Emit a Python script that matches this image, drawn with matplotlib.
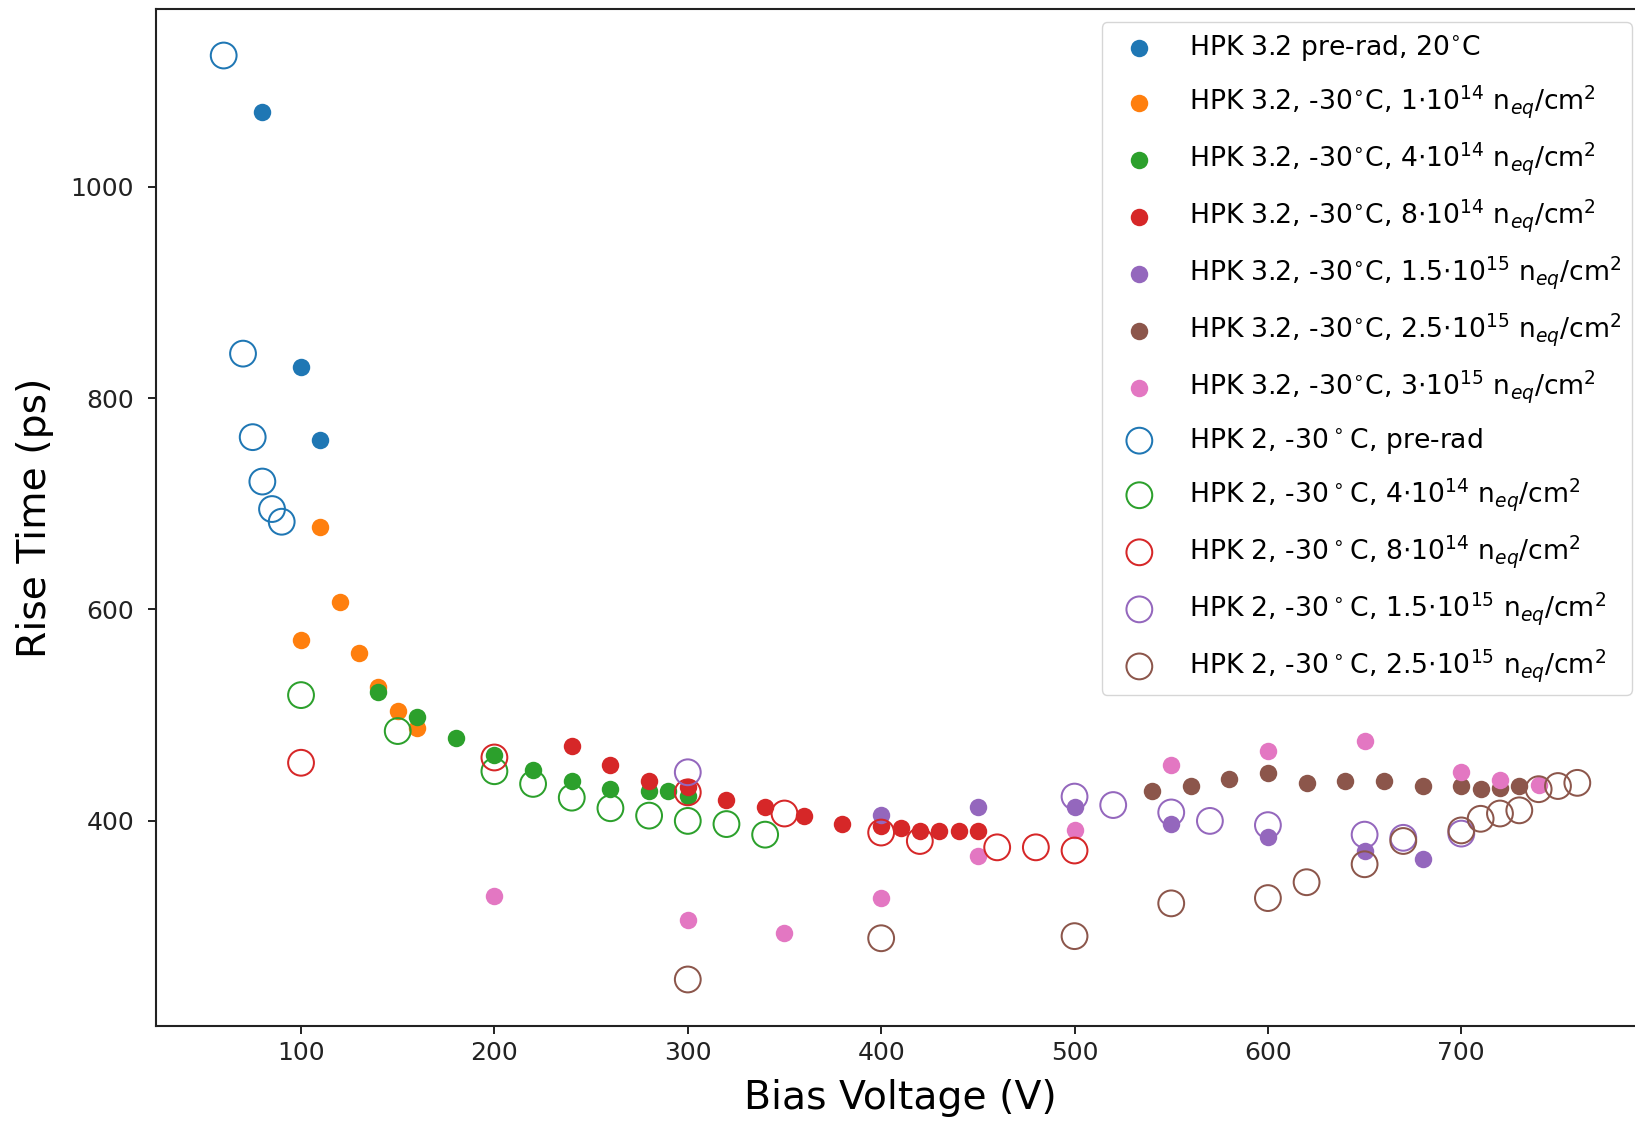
import matplotlib
matplotlib.use("Agg")
import matplotlib.pyplot as plt

# ---- data (Bias Voltage [V], Rise Time [ps]) ----
hpk32_pre_v = [80, 100, 110]
hpk32_pre_t = [1071, 829, 760]

hpk32_1e14_v = [100, 110, 120, 130, 140, 150, 160]
hpk32_1e14_t = [571, 678, 607, 559, 527, 504, 488]

hpk32_4e14_v = [140, 160, 180, 200, 220, 240, 260, 280, 290, 300]
hpk32_4e14_t = [522, 498, 478, 462, 448, 438, 430, 428, 428, 424]

hpk32_8e14_v = [240, 260, 280, 300, 320, 340, 360, 380, 400, 410, 420, 430, 440, 450]
hpk32_8e14_t = [471, 453, 438, 432, 420, 413, 405, 397, 395, 393, 390, 390, 390, 390]

hpk32_15e15_v = [400, 450, 500, 550, 600, 650, 680]
hpk32_15e15_t = [406, 413, 413, 397, 385, 372, 364]

hpk32_25e15_v = [540, 560, 580, 600, 620, 640, 660, 680, 700, 710, 720, 730]
hpk32_25e15_t = [428, 433, 440, 445, 436, 438, 438, 433, 433, 430, 431, 433]

hpk32_3e15_v = [200, 300, 350, 400, 450, 500, 550, 600, 650, 700, 720, 740]
hpk32_3e15_t = [329, 306, 294, 327, 367, 391, 453, 466, 476, 446, 439, 434]

hpk2_pre_v = [60, 70, 75, 80, 85, 90]
hpk2_pre_t = [1124, 842, 763, 721, 695, 683]

hpk2_4e14_v = [100, 150, 200, 220, 240, 260, 280, 300, 320, 340]
hpk2_4e14_t = [519, 485, 447, 435, 422, 412, 405, 400, 397, 387]

hpk2_8e14_v = [100, 200, 300, 350, 400, 420, 460, 480, 500]
hpk2_8e14_t = [455, 460, 427, 407, 389, 381, 375, 375, 372]

hpk2_15e15_v = [300, 500, 520, 550, 570, 600, 650, 670, 700]
hpk2_15e15_t = [446, 423, 415, 408, 400, 396, 387, 384, 388]

hpk2_25e15_v = [300, 400, 500, 550, 600, 620, 650, 670, 700, 710, 720, 730, 740, 750, 760]
hpk2_25e15_t = [250, 289, 291, 322, 327, 342, 359, 381, 391, 402, 407, 410, 430, 433, 436]

labels = [
    r"HPK 3.2 pre-rad, 20$^{\circ}$C",
    r"HPK 3.2, -30$^{\circ}$C, 1$\cdot$10$^{14}$ n$_{eq}$/cm$^{2}$",
    r"HPK 3.2, -30$^{\circ}$C, 4$\cdot$10$^{14}$ n$_{eq}$/cm$^{2}$",
    r"HPK 3.2, -30$^{\circ}$C, 8$\cdot$10$^{14}$ n$_{eq}$/cm$^{2}$",
    r"HPK 3.2, -30$^{\circ}$C, 1.5$\cdot$10$^{15}$ n$_{eq}$/cm$^{2}$",
    r"HPK 3.2, -30$^{\circ}$C, 2.5$\cdot$10$^{15}$ n$_{eq}$/cm$^{2}$",
    r"HPK 3.2, -30$^{\circ}$C, 3$\cdot$10$^{15}$ n$_{eq}$/cm$^{2}$",
    r"HPK 2, -30$\,^{\circ}\,$C, pre-rad",
    r"HPK 2, -30$\,^{\circ}\,$C, 4$\cdot$10$^{14}$ n$_{eq}$/cm$^{2}$",
    r"HPK 2, -30$\,^{\circ}\,$C, 8$\cdot$10$^{14}$ n$_{eq}$/cm$^{2}$",
    r"HPK 2, -30$\,^{\circ}\,$C, 1.5$\cdot$10$^{15}$ n$_{eq}$/cm$^{2}$",
    r"HPK 2, -30$\,^{\circ}\,$C, 2.5$\cdot$10$^{15}$ n$_{eq}$/cm$^{2}$",
]

xticks = [100, 200, 300, 400, 500, 600, 700]
yticks = [400, 600, 800, 1000]

filled = [
    (hpk32_pre_v, hpk32_pre_t, "#1f77b4"),
    (hpk32_1e14_v, hpk32_1e14_t, "#ff7f0e"),
    (hpk32_4e14_v, hpk32_4e14_t, "#2ca02c"),
    (hpk32_8e14_v, hpk32_8e14_t, "#d62728"),
    (hpk32_15e15_v, hpk32_15e15_t, "#9467bd"),
    (hpk32_25e15_v, hpk32_25e15_t, "#8c564b"),
    (hpk32_3e15_v, hpk32_3e15_t, "#e377c2"),
]
opened = [
    (hpk2_pre_v, hpk2_pre_t, "#1f77b4"),
    (hpk2_4e14_v, hpk2_4e14_t, "#2ca02c"),
    (hpk2_8e14_v, hpk2_8e14_t, "#d62728"),
    (hpk2_15e15_v, hpk2_15e15_t, "#9467bd"),
    (hpk2_25e15_v, hpk2_25e15_t, "#8c564b"),
]

W, H = 1635, 1122
fig = plt.figure(figsize=(W / 100, H / 100), dpi=100)
ax_left, ax_right, ax_top, ax_bottom = 156, 1645, 9, 1026
ax = fig.add_axes([ax_left / W, 1 - ax_bottom / H, (ax_right - ax_left) / W, (ax_bottom - ax_top) / H])

i = 0
for v, t, c in filled:
    ax.scatter(v, t, s=158, c=c, linewidths=0, label=labels[i])
    i += 1
for v, t, c in opened:
    ax.scatter(v, t, s=345, facecolors="none", edgecolors=c, linewidths=1.45, label=labels[i])
    i += 1

ax.set_xlim(25, 795)
ax.set_ylim(206, 1168)
ax.set_xticks(xticks)
ax.set_yticks(yticks)
ax.tick_params(labelsize=18, length=5.8, width=1.4, colors="#222222")
ax.tick_params(axis="x", pad=5.0)
ax.tick_params(axis="y", pad=10.0)
for sp in ax.spines.values():
    sp.set_linewidth(1.5)
    sp.set_color("#222222")

ax.set_xlabel("Bias Voltage (V)", fontsize=28.4, labelpad=10)
ax.set_ylabel("Rise Time (ps)", fontsize=28.4, labelpad=12)

ax.legend(loc="upper right", fontsize=19.2, borderaxespad=0.5, scatterpoints=1,
          labelspacing=0.76, handletextpad=0.85)

fig.savefig("out.png", dpi=100)
